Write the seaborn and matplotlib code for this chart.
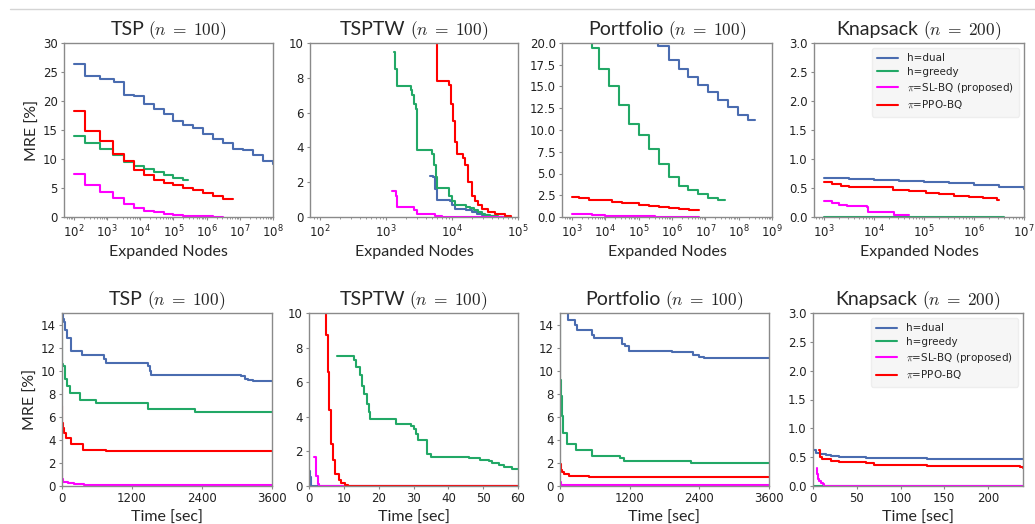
import numpy as np
import pandas as pd
import seaborn as sns
import matplotlib.pyplot as plt
from matplotlib.lines import Line2D
from matplotlib.ticker import FixedLocator, LogLocator, NullFormatter

methods = ['h=dual', 'h=greedy', r'$\pi$=SL-BQ (proposed)', r'$\pi$=PPO-BQ']
colors = ['#4a6cb0', '#22a866', '#ff00ff', '#ff0000']

# ---- top row: MRE vs expanded nodes (x given as log10 of node count) ----
tsp_n_dual = ([2.0, 2.33, 2.8, 3.2, 3.52, 3.8, 4.12, 4.42, 4.7, 5.0, 5.3, 5.6, 5.9, 6.2, 6.5, 6.8, 7.1, 7.4, 7.7, 8.0],
              [26.3, 24.3, 23.8, 23.2, 21.1, 20.8, 19.5, 18.7, 17.7, 16.6, 15.9, 15.3, 14.3, 13.5, 12.8, 11.8, 11.5, 10.7, 9.6, 9.2])
tsp_n_greedy = ([2.0, 2.33, 2.8, 3.18, 3.52, 3.8, 4.12, 4.42, 4.7, 5.0, 5.3, 5.43],
                [14.0, 12.7, 11.7, 10.7, 9.4, 8.8, 8.2, 7.7, 7.2, 6.8, 6.4, 6.4])
tsp_n_sl = ([2.0, 2.33, 2.8, 3.18, 3.52, 3.8, 4.12, 4.42, 4.7, 5.0, 5.3, 5.6, 5.9, 6.2, 6.5],
            [7.5, 5.5, 4.3, 3.3, 2.2, 1.6, 1.0, 0.8, 0.5, 0.35, 0.25, 0.15, 0.1, 0.05, 0.05])
tsp_n_ppo = ([2.0, 2.33, 2.8, 3.18, 3.52, 3.8, 4.12, 4.42, 4.7, 5.0, 5.3, 5.6, 5.9, 6.2, 6.5, 6.8],
             [18.3, 14.8, 13.1, 10.8, 9.6, 8.1, 7.2, 6.3, 5.9, 5.5, 5.0, 4.6, 4.2, 3.6, 3.1, 3.1])

tsptw_n_dual = ([3.665, 3.71, 3.75, 3.775, 3.97, 4.0, 4.04, 4.22, 4.3, 4.38, 4.45, 4.55, 4.65, 4.9],
                [2.37, 2.3, 1.6, 1.0, 0.9, 0.7, 0.45, 0.4, 0.3, 0.2, 0.1, 0.03, 0.0, 0.0])
tsptw_n_greedy = ([3.125, 3.14, 3.16, 3.375, 3.4, 3.43, 3.455, 3.475, 3.7, 3.73, 3.755, 3.775, 3.96, 4.0, 4.04,
                   4.22, 4.28, 4.33, 4.4, 4.45, 4.5, 4.58, 4.7, 4.9],
                  [9.5, 8.5, 7.5, 7.3, 7.0, 6.5, 6.2, 3.85, 3.6, 3.0, 2.3, 1.65, 1.2, 0.9, 0.7,
                   0.6, 0.5, 0.4, 0.3, 0.2, 0.12, 0.05, 0.0, 0.0])
tsptw_n_sl = ([3.085, 3.15, 3.17, 3.43, 3.47, 3.75, 3.85, 4.9],
              [1.5, 1.2, 0.55, 0.4, 0.15, 0.05, 0.0, 0.0])
tsptw_n_ppo = ([3.75, 3.775, 3.96, 3.985, 4.01, 4.04, 4.075, 4.16, 4.2, 4.25, 4.3, 4.35, 4.4, 4.46, 4.55, 4.65, 4.8, 4.9],
               [10.5, 7.8, 7.6, 6.5, 5.5, 4.3, 3.6, 3.4, 3.0, 2.0, 1.2, 0.9, 0.7, 0.45, 0.3, 0.15, 0.05, 0.0])

port_n_dual = ([3.0, 3.6, 4.2, 4.8, 5.3, 5.58, 5.9, 6.2, 6.47, 6.77, 7.08, 7.38, 7.68, 7.98, 8.28, 8.5],
               [34.0, 30.0, 26.0, 23.0, 21.0, 19.6, 18.1, 17.0, 16.1, 15.2, 14.4, 13.5, 12.7, 11.7, 11.1, 11.1])
port_n_greedy = ([3.0, 3.3, 3.6, 3.82, 4.1, 4.42, 4.7, 5.0, 5.3, 5.6, 5.9, 6.2, 6.48, 6.77, 7.08, 7.38, 7.6],
                 [26.0, 22.0, 19.4, 17.0, 15.1, 12.9, 10.7, 9.4, 7.8, 6.1, 4.6, 3.6, 3.1, 2.6, 2.2, 2.0, 2.0])
port_n_sl = ([3.0, 3.3, 3.6, 4.0, 4.5, 5.0, 5.5, 6.0, 6.8],
             [0.4, 0.3, 0.2, 0.15, 0.1, 0.08, 0.05, 0.03, 0.02])
port_n_ppo = ([3.0, 3.2, 3.5, 4.0, 4.2, 4.5, 5.0, 5.3, 5.6, 5.9, 6.2, 6.5, 6.8],
              [2.35, 2.15, 2.0, 1.9, 1.75, 1.6, 1.35, 1.25, 1.15, 1.05, 0.9, 0.8, 0.75])

knap_n_dual = ([3.0, 3.5, 4.0, 4.5, 5.0, 5.5, 6.0, 6.5, 7.0],
               [0.67, 0.66, 0.64, 0.62, 0.60, 0.58, 0.55, 0.52, 0.48])
knap_n_greedy = ([3.0, 6.6], [0.0, 0.0])
knap_n_sl = ([3.0, 3.15, 3.3, 3.45, 3.85, 3.88, 4.4, 4.7],
             [0.28, 0.25, 0.21, 0.185, 0.17, 0.085, 0.035, 0.035])
knap_n_ppo = ([3.0, 3.15, 3.33, 3.5, 4.0, 4.37, 4.7, 5.03, 5.3, 5.6, 5.9, 6.17, 6.45, 6.5],
              [0.61, 0.57, 0.54, 0.52, 0.51, 0.46, 0.44, 0.42, 0.40, 0.37, 0.35, 0.32, 0.29, 0.29])

# ---- bottom row: MRE vs time [sec] ----
tsp_t_dual = ([0, 10, 30, 57, 91, 160, 349, 714, 749, 1475, 1503, 1531, 3074, 3130, 3189, 3274, 3600],
              [16.0, 14.5, 14.2, 13.5, 12.8, 11.7, 11.4, 11.0, 10.7, 10.4, 10.0, 9.6, 9.5, 9.3, 9.2, 9.1, 9.1])
tsp_t_greedy = ([0, 3, 17, 57, 80, 140, 303, 589, 1474, 2274, 3600],
                [12.8, 10.6, 10.4, 9.3, 8.7, 8.1, 7.5, 7.2, 6.7, 6.4, 6.4])
tsp_t_sl = ([0, 5, 20, 100, 200, 380, 3600],
            [1.4, 0.6, 0.35, 0.25, 0.15, 0.1, 0.1])
tsp_t_ppo = ([0, 5, 10, 29, 74, 160, 360, 760, 3600],
             [6.9, 5.5, 5.0, 4.6, 4.2, 3.6, 3.1, 3.05, 3.05])

tsptw_t_dual = ([0, 0.3, 0.6, 60], [0.85, 0.5, 0.0, 0.0])
tsptw_t_greedy = ([8.1, 12.9, 13.5, 14.5, 15.2, 15.9, 16.6, 17.1, 17.6, 25.0, 29.2, 30.2, 30.7, 31.4, 34.0, 35.0,
                   46.0, 49.2, 51.6, 52.6, 54.5, 55.9, 58.3, 60.0],
                  [7.5, 7.3, 6.9, 6.4, 5.8, 5.3, 4.75, 4.3, 3.85, 3.6, 3.45, 3.3, 3.0, 2.65, 1.85, 1.65,
                   1.6, 1.5, 1.45, 1.35, 1.2, 1.1, 1.0, 1.0])
tsptw_t_sl = ([1.3, 1.9, 2.6, 3.0, 60.0], [1.7, 0.6, 0.1, 0.0, 0.0])
tsptw_t_ppo = ([4.5, 4.95, 5.4, 5.7, 6.2, 6.9, 7.6, 8.5, 9.2, 10.2, 11.1, 60.0],
               [10.5, 8.7, 6.6, 4.4, 2.4, 1.5, 0.7, 0.35, 0.15, 0.05, 0.0, 0.0])

port_t_dual = ([0, 116, 145, 260, 289, 549, 578, 1069, 1127, 1197, 1936, 2138, 2283, 2399, 2485, 3600],
               [17.0, 15.0, 14.4, 14.0, 13.5, 13.1, 12.8, 12.3, 12.1, 11.7, 11.65, 11.6, 11.35, 11.2, 11.1, 11.1])
port_t_greedy = ([0, 5, 10, 29, 58, 127, 272, 549, 1040, 1098, 2090, 2254, 3600],
                 [16.0, 9.2, 7.8, 6.1, 4.6, 3.6, 3.1, 2.6, 2.4, 2.2, 2.15, 2.0, 2.0])
port_t_sl = ([0, 20, 100, 3600], [0.35, 0.1, 0.05, 0.05])
port_t_ppo = ([0, 10, 30, 70, 150, 270, 500, 3600],
              [1.9, 1.4, 1.2, 1.0, 0.9, 0.85, 0.75, 0.75])

knap_t_dual = ([0, 3, 8, 15, 20, 30, 60, 130, 240],
               [0.62, 0.57, 0.55, 0.53, 0.52, 0.50, 0.48, 0.46, 0.46])
knap_t_greedy = ([0, 240], [0.0, 0.0])
knap_t_sl = ([4, 5, 6, 7, 9, 11, 13, 240],
             [0.31, 0.2, 0.13, 0.09, 0.06, 0.03, 0.0, 0.0])
knap_t_ppo = ([7, 8, 10, 20, 30, 60, 70, 130, 237, 240],
              [0.63, 0.50, 0.47, 0.44, 0.42, 0.40, 0.36, 0.34, 0.33, 0.31])

titles = ['TSP', 'TSPTW', 'Portfolio', 'Knapsack']
sizes = ['100', '100', '100', '200']

sns.set_style('white')
plt.rcParams['font.family'] = ['DejaVu Sans']
label_font = 'Lato'


def draw_panel(ax, curves, log=False, legend=False):
    frames = []
    for name, (xs, ys) in zip(methods, curves):
        x = np.array(xs, dtype=float)
        if log:
            x = 10 ** x
        frames.append(pd.DataFrame({'x': x, 'MRE': ys, 'method': name}))
    df = pd.concat(frames, ignore_index=True)
    sns.lineplot(data=df, x='x', y='MRE', hue='method', hue_order=methods,
                 palette=colors, estimator=None, sort=False,
                 drawstyle='steps-post', linewidth=1.5, ax=ax, legend=legend)
    if log:
        ax.set_xscale('log')
        ax.xaxis.set_minor_locator(LogLocator(base=10, subs=np.arange(2, 10), numticks=12))
        ax.xaxis.set_minor_formatter(NullFormatter())
    if legend:
        sns.move_legend(ax, 'upper right', title=None, frameon=True,
                        prop={'size': 7.5, 'math_fontfamily': 'cm'},
                        facecolor='#f6f6f6', edgecolor='#eeeeee', framealpha=1,
                        borderpad=0.5, handlelength=2.0, labelspacing=0.35)
    for s in ax.spines.values():
        s.set_color('#8a8a8a')
        s.set_linewidth(1.0)
    ax.tick_params(axis='both', which='major', labelsize=8.5, length=2.5, width=0.8,
                   color='#8a8a8a', labelcolor='#222222', bottom=True, left=True, pad=2)
    ax.tick_params(axis='x', which='minor', length=1.5, width=0.6, color='#8a8a8a', bottom=True)
    ax.set_ylabel('')
    ax.set_xlabel('')


fig = plt.figure(figsize=(10.35, 5.24), dpi=100)
W, H = 1035, 524

top_cols = [(64, 273), (310, 518), (562, 772), (814, 1024)]
bot_cols = [(62, 272), (309, 518), (560, 769), (813, 1023)]
top_y = (43, 217)
bot_y = (313, 486)


def make_ax(cols, ys):
    x0, x1 = cols
    y0, y1 = ys
    return fig.add_axes([x0 / W, 1 - y1 / H, (x1 - x0) / W, (y1 - y0) / H])


# two-part title: name in sans, "(n = ...)" in the math font
title_parts = []


def add_title(ax, name, size):
    t1 = ax.annotate(name, xy=(0.5, 1.0), xycoords='axes fraction', xytext=(0, 6),
                     textcoords='offset points', ha='right', va='baseline',
                     fontsize=14, family=label_font)
    t2 = ax.annotate(r'$(n\;=\;' + size + ')$', xy=(0.5, 1.0), xycoords='axes fraction',
                     xytext=(0, 6), textcoords='offset points', ha='left', va='baseline',
                     fontsize=12.5, math_fontfamily='cm')
    title_parts.append((t1, t2))


top_curves = [
    [tsp_n_dual, tsp_n_greedy, tsp_n_sl, tsp_n_ppo],
    [tsptw_n_dual, tsptw_n_greedy, tsptw_n_sl, tsptw_n_ppo],
    [port_n_dual, port_n_greedy, port_n_sl, port_n_ppo],
    [knap_n_dual, knap_n_greedy, knap_n_sl, knap_n_ppo],
]
bot_curves = [
    [tsp_t_dual, tsp_t_greedy, tsp_t_sl, tsp_t_ppo],
    [tsptw_t_dual, tsptw_t_greedy, tsptw_t_sl, tsptw_t_ppo],
    [port_t_dual, port_t_greedy, port_t_sl, port_t_ppo],
    [knap_t_dual, knap_t_greedy, knap_t_sl, knap_t_ppo],
]

top_xlim = [(10 ** 1.7, 1e8), (10 ** 1.85, 1e5), (10 ** 2.7, 1e9), (10 ** 2.8, 1e7)]
top_xdec = [(2, 8), (2, 5), (3, 9), (3, 7)]
top_ylim = [30, 10, 20, 3]
top_yticks = [np.arange(0, 31, 5), np.arange(0, 11, 2), np.arange(0, 20.1, 2.5), np.arange(0, 3.01, 0.5)]
top_yfmt = ['{:.0f}', '{:.0f}', '{:.1f}', '{:.1f}']

bot_xlim = [3600, 60, 3600, 240]
bot_xticks = [[0, 1200, 2400, 3600], np.arange(0, 61, 10), [0, 1200, 2400, 3600], np.arange(0, 201, 50)]
bot_ylim = [15, 10, 15, 3]
bot_yticks = [np.arange(0, 15, 2), np.arange(0, 11, 2), np.arange(0, 15, 2), np.arange(0, 3.01, 0.5)]

for i in range(4):
    ax = make_ax(top_cols[i], top_y)
    draw_panel(ax, top_curves[i], log=True, legend=(i == 3))
    ax.set_xlim(*top_xlim[i])
    lo, hi = top_xdec[i]
    ax.xaxis.set_major_locator(FixedLocator(10.0 ** np.arange(lo, hi + 1)))
    ax.set_ylim(0, top_ylim[i])
    ax.set_yticks(top_yticks[i])
    ax.set_yticklabels([top_yfmt[i].format(v) for v in top_yticks[i]])
    add_title(ax, titles[i], sizes[i])
    ax.set_xlabel('Expanded Nodes', fontsize=11.5, family=label_font, labelpad=4)
    if i == 0:
        ax.set_ylabel('MRE [%]', fontsize=11.5, family=label_font, labelpad=2)

    ax = make_ax(bot_cols[i], bot_y)
    draw_panel(ax, bot_curves[i], log=False, legend=(i == 3))
    ax.set_xlim(0, bot_xlim[i])
    ax.set_xticks(bot_xticks[i])
    ax.set_ylim(0, bot_ylim[i])
    ax.set_yticks(bot_yticks[i])
    if i == 3:
        ax.set_yticklabels(['{:.1f}'.format(v) for v in bot_yticks[i]])
    add_title(ax, titles[i], sizes[i])
    ax.set_xlabel('Time [sec]', fontsize=11.5, family=label_font, labelpad=4)
    if i == 0:
        ax.set_ylabel('MRE [%]', fontsize=11.5, family=label_font, labelpad=2)

# centre each two-part title over its axes
fig.canvas.draw()
renderer = fig.canvas.get_renderer()
gap = 3.0
for t1, t2 in title_parts:
    w1 = t1.get_window_extent(renderer).width * 72 / fig.dpi
    w2 = t2.get_window_extent(renderer).width * 72 / fig.dpi
    j = (w1 - w2 - gap) / 2
    t1.xyann = (j, 6)
    t2.xyann = (j + gap, 6)

# thin separator line at the very top
fig.add_artist(Line2D([10 / W, 1.0], [1 - 9 / H, 1 - 9 / H], color='#d4d4d4', linewidth=1.0))

fig.savefig('out.png', dpi=100)
